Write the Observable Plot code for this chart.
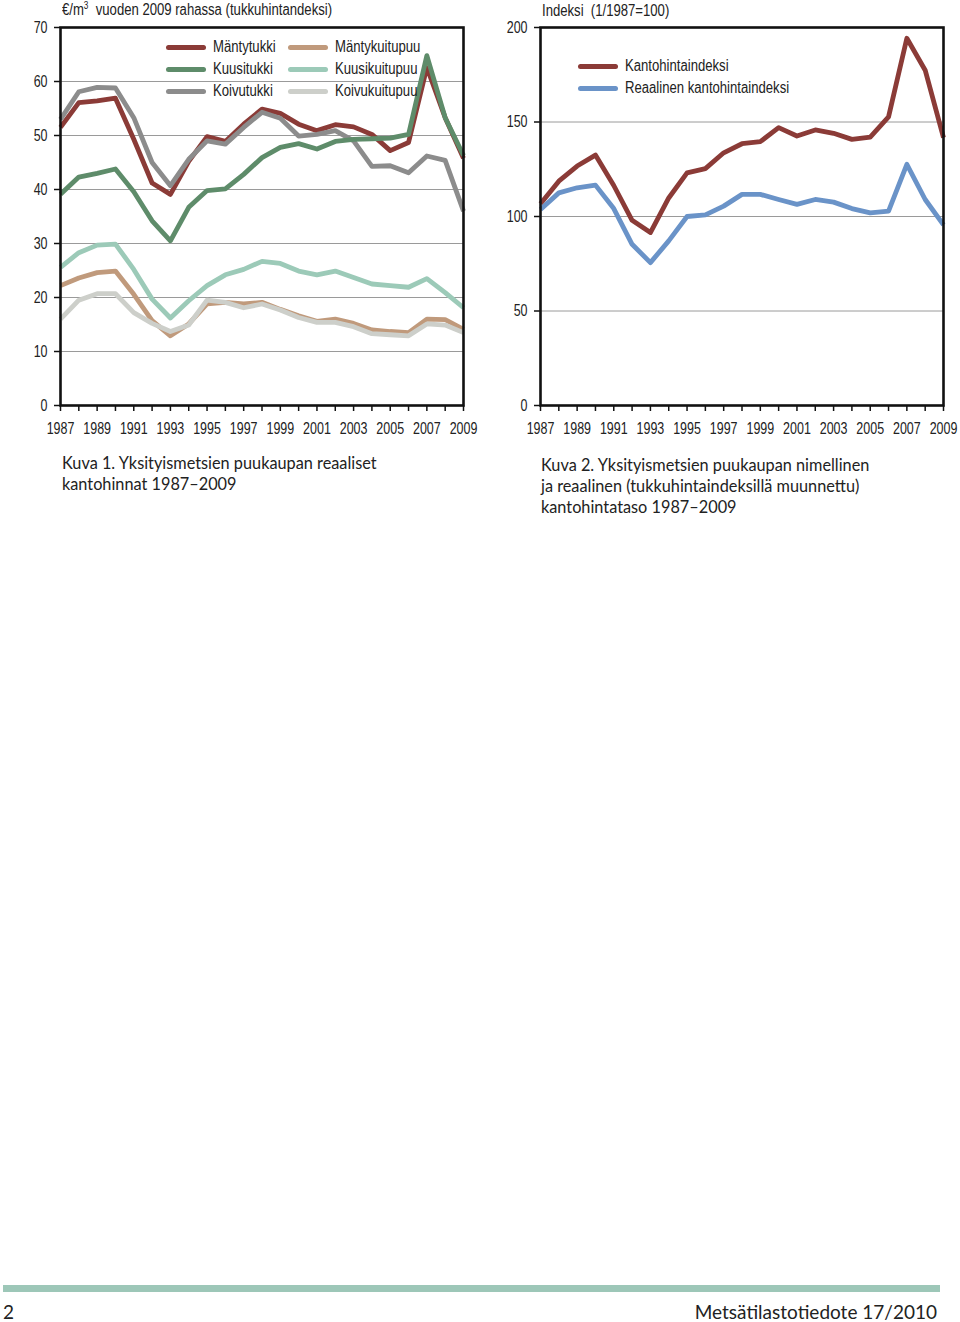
<!DOCTYPE html>
<html>
<head>
<meta charset="utf-8">
<script src="https://cdn.jsdelivr.net/npm/d3@7"></script>
<script src="https://cdn.jsdelivr.net/npm/@observablehq/plot@0.6"></script>
<style>
  html, body { margin: 0; padding: 0; background: #fff; }
  #page { position: relative; width: 960px; height: 1322px; overflow: hidden; }
  .abs { position: absolute; }
  .cf { font-family: "Liberation Sans", Arial, sans-serif; color: #222; white-space: nowrap; }
  .sx { display: inline-block; transform: scaleX(0.82); transform-origin: 0 50%; white-space: nowrap; }
  .cap { font-family: Lato, "Open Sans", sans-serif; font-size: 16px; line-height: 21px; color: #222; white-space: nowrap; }
  .legend { font-family: "Liberation Sans", Arial, sans-serif; font-size: 16px; color: #222; }
  .legrow { position: absolute; display: flex; align-items: center; white-space: nowrap; }
  .sw { display: inline-block; height: 5px; border-radius: 3px; margin-right: 7px; flex: none; }
</style>
</head>
<body>
<div id="page">
  <div id="c1" class="abs" style="left:0;top:0;"></div>
  <div id="c2" class="abs" style="left:480px;top:0;"></div>
  <div class="abs cf" style="left:62px;top:0px;font-size:16px;"><span class="sx">€/m<sup style="font-size:10px;">3</sup>&nbsp; vuoden 2009 rahassa (tukkuhintandeksi)</span></div>
  <div class="abs cf" style="left:542px;top:2px;font-size:16px;"><span class="sx">Indeksi&nbsp; (1/1987=100)</span></div>
  <div class="abs cap" style="left:62px;top:452px;font-size:16.3px;">Kuva 1. Yksityismetsien puukaupan reaaliset<br>kantohinnat 1987–2009</div>
  <div class="abs cap" style="left:541px;top:454px;font-size:16.3px;">Kuva 2. Yksityismetsien puukaupan nimellinen<br>ja reaalinen (tukkuhintaindeksillä muunnettu)<br>kantohintataso 1987–2009</div>
  <div class="abs" style="left:3px;top:1285px;width:937px;height:7px;background:#9dc7b8;"></div>
  <div class="abs cap" style="left:3px;top:1301px;font-size:19px;">2</div>
  <div class="abs cap" style="right:23px;top:1301px;font-size:19px;">Metsätilastotiedote 17/2010</div>
</div>
<script>
// ---------- DATA ----------
const years = d3.range(1987, 2010);

// Chart 1: real stumpage prices, €/m3 (2009 money)
const mantytukki     = [51.5,56.1,56.4,56.9,49.3,41.2,39.1,45.2,49.8,48.9,52.1,54.9,54.1,52.1,50.9,52.0,51.6,50.2,47.2,48.7,62.6,53.3,45.8];
const kuusitukki     = [39.1,42.3,43.0,43.8,39.6,34.2,30.5,36.7,39.8,40.1,42.8,45.9,47.8,48.5,47.5,48.9,49.3,49.4,49.5,50.2,64.8,53.3,46.3];
const koivutukki     = [53.0,58.1,58.9,58.8,53.3,45.0,40.7,45.6,49.0,48.4,51.5,54.3,53.2,49.9,50.2,50.9,49.0,44.3,44.4,43.1,46.2,45.4,36.0];
const mantykuitupuu  = [22.2,23.6,24.6,24.9,20.6,15.7,12.9,15.1,18.8,19.1,18.8,19.1,17.8,16.6,15.6,16.0,15.2,14.0,13.7,13.5,16.0,15.9,14.1];
const kuusikuitupuu  = [25.6,28.3,29.7,29.9,25.2,19.7,16.2,19.4,22.2,24.2,25.2,26.7,26.3,24.9,24.2,24.9,23.7,22.5,22.2,21.9,23.5,20.9,18.1];
const koivukuitupuu  = [16.0,19.5,20.7,20.7,17.2,15.2,13.7,14.9,19.5,19.1,18.1,18.8,17.7,16.3,15.4,15.4,14.6,13.3,13.1,12.9,15.1,14.9,13.5];

const series1Names  = ["Mäntytukki","Kuusitukki","Koivutukki","Mäntykuitupuu","Kuusikuitupuu","Koivukuitupuu"];
const series1Colors = ["#8b3b37","#5e8c6a","#8c8c8c","#c09a7c","#9ccab8","#cdcfca"];
const series1Values = [mantytukki, kuusitukki, koivutukki, mantykuitupuu, kuusikuitupuu, koivukuitupuu];
const yTicks1 = [0,10,20,30,40,50,60,70];

// Chart 2: stumpage price index (1/1987 = 100)
const kantohintaindeksi = [106.7,118.7,126.7,132.5,116.4,98.0,91.5,109.8,123.1,125.3,133.7,138.5,139.6,147.0,142.6,145.8,144.0,140.8,142.0,152.7,194.3,177.4,141.7];
const reaalinenIndeksi  = [103.7,112.5,115.2,116.6,104.2,85.3,75.6,87.1,100.0,100.9,105.5,111.7,111.7,109.0,106.4,109.0,107.6,104.2,101.9,102.8,127.6,109.0,95.6];
const series2Names  = ["Kantohintaindeksi","Reaalinen kantohintaindeksi"];
const series2Colors = ["#8b3b37","#6a93c8"];
const series2Values = [kantohintaindeksi, reaalinenIndeksi];
const yTicks2 = [0,50,100,150,200];

// ---------- BUILD ----------
function tidy(names, values) {
  const rows = [];
  names.forEach((n, i) => values[i].forEach((v, j) => rows.push({series: n, year: years[j], value: v})));
  return rows;
}
const data1 = tidy(series1Names, series1Values);
const data2 = tidy(series2Names, series2Values);
const drawOrder1 = ["Mäntykuitupuu","Koivukuitupuu","Kuusikuitupuu","Mäntytukki","Koivutukki","Kuusitukki"];

const fontFam = '"Liberation Sans", Arial, sans-serif';

function makeChart(data, names, colors, order, yDomain, yTicks, gridTicks) {
  return Plot.plot({
    width: 480,
    height: 445,
    marginLeft: 60,
    marginRight: 17,
    marginTop: 27,
    marginBottom: 40,
    style: {fontFamily: fontFam, fontSize: "16px", color: "#222", background: "transparent", overflow: "visible"},
    x: {domain: [1987, 2009]},
    y: {domain: yDomain},
    color: {domain: names, range: colors},
    marks: [
      Plot.gridY(gridTicks, {stroke: "#9a9a9a", strokeOpacity: 1, strokeWidth: 1}),
      ...order.map(n => Plot.line(data.filter(d => d.series === n), {
        x: "year", y: "value", stroke: "series", strokeWidth: 4.8, strokeLinejoin: "round", strokeLinecap: "butt"
      })),
      Plot.axisX({ticks: years, tickFormat: d => d % 2 ? String(d) : "", tickSize: 6, tickPadding: 11, label: null, stroke: "#111", strokeWidth: 1.5}),
      Plot.axisY({ticks: yTicks, tickSize: 6, tickPadding: 7, label: null, stroke: "#111", strokeWidth: 1.5}),
      Plot.frame({stroke: "#111", strokeWidth: 2.6})
    ]
  });
}

// Narrow the tick labels horizontally around their anchor (mimics a condensed face)
function condense(svg, k) {
  svg.querySelectorAll("text").forEach(t => {
    if (!t.textContent) return;
    const tr = t.getAttribute("transform");
    if (tr) {
      t.setAttribute("transform", tr + ` scale(${k},1)`);
    } else {
      const x = +(t.getAttribute("x") || 0), y = +(t.getAttribute("y") || 0);
      t.setAttribute("x", 0); t.setAttribute("y", 0);
      t.setAttribute("transform", `translate(${x},${y}) scale(${k},1)`);
    }
  });
}

const svg1 = makeChart(data1, series1Names, series1Colors, drawOrder1, [0, 70], yTicks1, [10,20,30,40,50,60]);
document.getElementById("c1").appendChild(svg1);
condense(svg1, 0.78);
const svg2 = makeChart(data2, series2Names, series2Colors, series2Names, [0, 200], yTicks2, [50,100,150]);
document.getElementById("c2").appendChild(svg2);
condense(svg2, 0.78);

// Legends (HTML overlays)
function legendRow(parent, left, top, name, color) {
  const row = document.createElement("div");
  row.className = "legrow legend";
  row.style.left = left + "px";
  row.style.top = top + "px";
  const sw = document.createElement("span");
  sw.className = "sw";
  sw.style.width = "40px";
  sw.style.background = color;
  row.appendChild(sw);
  const tx = document.createElement("span");
  tx.className = "sx";
  tx.textContent = name;
  row.appendChild(tx);
  parent.appendChild(row);
}
const page = document.getElementById("page");
const leg1Pos = [[166,38],[166,60],[166,82],[288,38],[288,60],[288,82]];
series1Names.forEach((n, i) => legendRow(page, leg1Pos[i][0], leg1Pos[i][1], n, series1Colors[i]));
const leg2Pos = [[578,57],[578,79]];
series2Names.forEach((n, i) => legendRow(page, leg2Pos[i][0], leg2Pos[i][1], n, series2Colors[i]));
</script>
</body>
</html>
